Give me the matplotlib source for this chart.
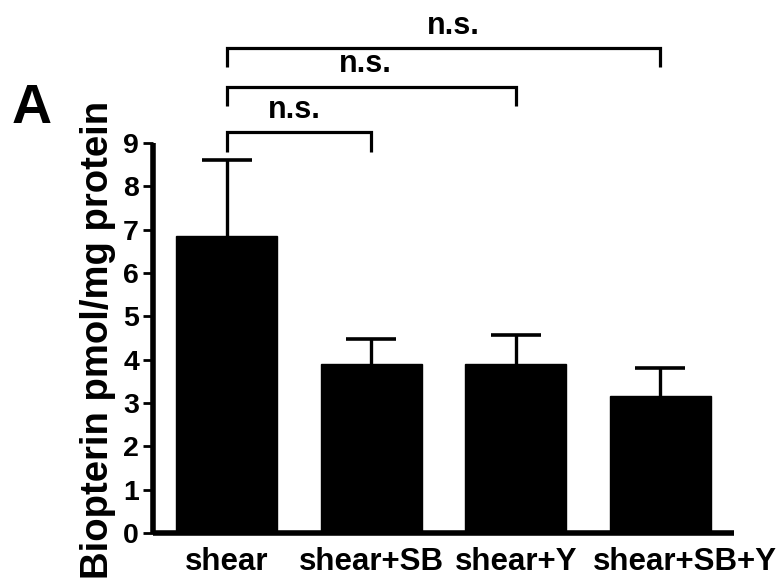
import matplotlib
matplotlib.use("Agg")
import matplotlib.pyplot as plt
from matplotlib.transforms import ScaledTranslation

categories = ["shear", "shear+SB", "shear+Y", "shear+SB+Y"]
means = [6.85, 3.90, 3.90, 3.16]
sem = [1.76, 0.58, 0.67, 0.65]
yticks = [0, 1, 2, 3, 4, 5, 6, 7, 8, 9]
comparisons = [(0, 1), (0, 2), (0, 3)]
comp_labels = ["n.s.", "n.s.", "n.s."]

plt.rcParams['font.family'] = ['Liberation Sans', 'DejaVu Sans']
plt.rcParams['font.weight'] = 'bold'

fig = plt.figure(figsize=(7.79, 5.81), dpi=100)
ax = fig.add_axes([0.1964, 0.0826, 0.7458, 0.6713])

x = list(range(len(categories)))
ax.bar(x, means, width=0.70, color='black', edgecolor='black', linewidth=1, zorder=2)
tops = [m + e for m, e in zip(means, sem)]
ax.vlines(x, means, tops, colors='black', linewidth=2.4, zorder=1)
ax.hlines(tops, [xi - 0.173 for xi in x], [xi + 0.173 for xi in x],
          colors='black', linewidth=2.6, zorder=1)

ax.set_xlim(-0.51, 3.51)
ax.set_ylim(0, 9)
ax.set_yticks(yticks)
ax.set_yticklabels([str(t) for t in yticks], fontsize=20.5, fontweight='bold')
ax.set_xticks(x)
ax.set_xticklabels(categories, fontsize=22.5, fontweight='bold')
ax.tick_params(axis='x', length=0, pad=10)
ax.tick_params(axis='y', length=7, width=2, pad=3)

# last category label sits slightly right in the original
last = ax.get_xticklabels()[-1]
last.set_transform(last.get_transform() + ScaledTranslation(0.25, 0, fig.dpi_scale_trans))

for s in ['top', 'right']:
    ax.spines[s].set_visible(False)
for s in ['left', 'bottom']:
    ax.spines[s].set_linewidth(4)
    ax.spines[s].set_capstyle('butt')

ax.set_ylabel("Biopterin pmol/mg protein", fontsize=27.5, fontweight='bold')
ax.yaxis.set_label_coords(-0.063, 0.494)

# significance brackets
br_top = [9.25, 10.29, 11.19]
br_bot = [8.79, 9.85, 10.75]
txt_x = [0.47, 0.96, 1.57]
txt_y = [9.58, 10.64, 11.52]
for (a, b), top, bot, lab, tx, ty in zip(comparisons, br_top, br_bot, comp_labels, txt_x, txt_y):
    ax.plot([a, a, b, b], [bot, top, top, bot], color='black', lw=2.3,
            clip_on=False, solid_capstyle='butt', solid_joinstyle='miter')
    ax.text(tx, ty, lab, ha='center', va='baseline', fontsize=22, fontweight='bold',
            clip_on=False)

fig.text(12 / 779, 1 - 123 / 581, "A", fontsize=40, fontweight='bold',
         ha='left', va='baseline')

fig.savefig("out.png", dpi=100)
